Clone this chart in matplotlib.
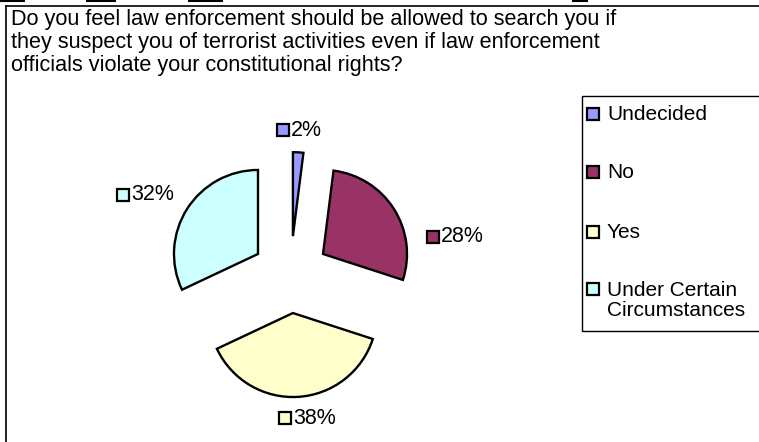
import matplotlib.pyplot as plt
from matplotlib.patches import Rectangle

plt.rcParams['font.family'] = ['Liberation Sans', 'DejaVu Sans']

# data
categories = ["Undecided", "No", "Yes", "Under Certain\nCircumstances"]
shares = [2, 28, 38, 32]
colors = ["#9999FF", "#993366", "#FFFFCC", "#CCFFFF"]
title = ("Do you feel law enforcement should be allowed to search you if\n"
         "they suspect you of terrorist activities even if law enforcement\n"
         "officials violate your constitutional rights?")

W, H = 759, 442
fig = plt.figure(figsize=(W / 100, H / 100), dpi=100)
ax = fig.add_axes([0, 0, 1, 1])
ax.set_xlim(0, W)
ax.set_ylim(H, 0)
ax.axis("off")

# pie in its own (y-up) axes, pixel units
pax = fig.add_axes([0, 0, 1, 1])
cx, cy, r = 290.5, H - 274.6, 84
pax.pie(shares, colors=colors, startangle=90, counterclock=False,
        center=(cx, cy), radius=r, explode=[38.5] * 4,
        wedgeprops=dict(edgecolor="black", linewidth=1.7))
pax.set_xlim(0, W)
pax.set_ylim(0, H)
pax.axis("off")

# chart frame and cut-off cells above
ax.plot([6, W], [5.5, 5.5], color="black", lw=1.2)
ax.plot([6, 6], [5.5, H], color="black", lw=1.2)
for x0, x1 in [(0, 25), (86, 116), (188, 223), (572, 588)]:
    ax.plot([x0, x1], [0.8, 0.8], color="black", lw=1.5, solid_capstyle="butt")

ax.text(11, 9, title, fontsize=15.6, va="top", ha="left", linespacing=1.13)

# data labels with colour keys
label_pos = {"Undecided": (283, 130), "No": (433, 237), "Yes": (285, 418),
             "Under Certain\nCircumstances": (123, 195)}
for cat, val, col in zip(categories, shares, colors):
    x, y = label_pos[cat]
    ax.plot(x, y, marker="s", ms=8.2, mfc=col, mec="black", mew=1.6)
    ax.text(x + 8, y, f"{val}%", fontsize=15.5, va="center", ha="left")

# legend
ax.add_patch(Rectangle((582, 96), 200, 235, fill=False, edgecolor="black",
                       lw=1.0, clip_on=False))
legend_y = [114, 172, 232, 289]
for cat, col, y in zip(categories, colors, legend_y):
    ax.plot(593, y, marker="s", ms=8.2, mfc=col, mec="black", mew=1.6)
    ax.text(607, y - 8.5, cat, fontsize=15, va="top", ha="left", linespacing=1.1)

fig.savefig("out.png", dpi=100)
